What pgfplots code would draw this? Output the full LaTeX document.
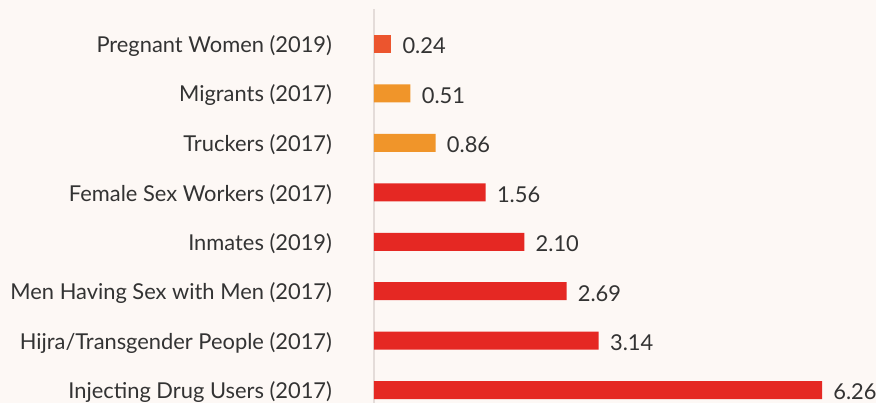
\documentclass[border=0pt]{standalone}
\usepackage{pgfplots}
\pgfplotsset{compat=1.18}
\usepackage{fontspec}
\setmainfont{Lato}
\definecolor{bg}{HTML}{FDF8F5}
\definecolor{cred}{HTML}{E52823}
\definecolor{corange}{HTML}{F0952A}
\definecolor{cpreg}{HTML}{EC552E}
\definecolor{txt}{HTML}{333333}
\definecolor{axl}{HTML}{E4DCD9}
\begin{document}
\begin{tikzpicture}
\useasboundingbox (0,0) rectangle (657pt,302.25pt);
\fill[bg] (0,0) rectangle (657pt,302.25pt);
\begin{axis}[
  at={(280.5pt,0pt)}, anchor=south west,
  scale only axis, width=375.75pt, height=295.2pt,
  xbar, bar width=0.364, bar shift=0pt,
  xmin=0, xmax=7, ymin=-0.26, ymax=7.7,
  axis x line=none,
  axis y line*=left,
  y axis line style={axl, line width=1.5pt, -},
  ytick={0,...,7},
  yticklabels={Injecting Drug Users (2017),Hijra/Transgender People (2017),Men Having Sex with Men (2017),Inmates (2019),Female Sex Workers (2017),Truckers (2017),Migrants (2017),Pregnant Women (2019)},
  major tick length=0pt,
  yticklabel style={font=\fontsize{16.4}{18}\selectfont, text=txt, xshift=-28pt, yshift=-1.5pt},
  nodes near coords,
  point meta=x,
  nodes near coords style={font=\fontsize{16.4}{18}\selectfont, text=txt, anchor=west, xshift=5pt, yshift=-1.5pt, /pgf/number format/fixed, /pgf/number format/precision=2, /pgf/number format/fixed zerofill, /pgf/number format/assume math mode=true},
  clip=false,
]
\addplot[fill=cred, draw=none] coordinates {(6.26,0) (3.14,1) (2.69,2) (2.10,3) (1.56,4)};
\addplot[fill=corange, draw=none] coordinates {(0.86,5) (0.51,6)};
\addplot[fill=cpreg, draw=none] coordinates {(0.24,7)};
\end{axis}
\end{tikzpicture}
\end{document}
